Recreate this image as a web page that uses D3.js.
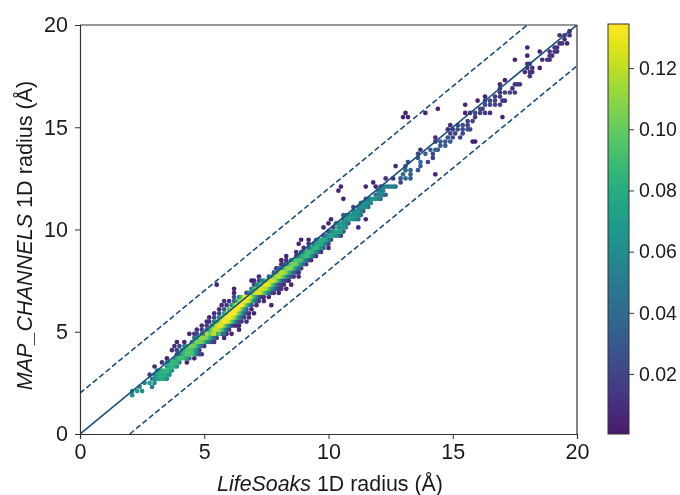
<!DOCTYPE html>
<html><head><meta charset="utf-8"><script src="https://d3js.org/d3.v7.min.js"></script>
<style>html,body{margin:0;padding:0;background:#fff}svg{display:block;filter:blur(.45px)}text{font-family:"Liberation Sans",Arial,sans-serif}</style></head><body>
<svg id="c" width="680" height="495"></svg>
<script>
const xTicks=[0,5,10,15,20], yTicks=[0,5,10,15,20], barTicks=[0.02,0.04,0.06,0.08,0.10,0.12];
const densityRange=[0.0004,0.1344];
const refSolid=[[0,0],[20,20]], refUpper=[[0,2],[18,20]], refLower=[[2,0],[20,18]];
const rowY=[1.9,2.1,2.3,2.5,2.7,2.9,3.1,3.3,3.5,3.7,3.9,4.1,4.3,4.5,4.7,4.9,5.1,5.3,5.5,5.7,5.9,6.1,6.3,6.5,6.7,6.9,7.1,7.3,7.5,7.7,7.9,8.1,8.3,8.5,8.7,8.9,9.1,9.3,9.5,9.7,9.9,10.1,10.3,10.5,10.7,10.9,11.1,11.3,11.5,11.7,11.9,12.1,12.3,12.5,12.7,12.9,13.1,13.3,13.5,13.7,13.9,14.1,14.3,14.5,14.7,14.9,15.1,15.3,15.5,15.7,15.9,16.1,16.3,16.5,16.7,16.9,17.1,17.3,17.5,17.7,17.9,18.1,18.3,18.5,18.7,18.9,19.1,19.3,19.5,19.7];
const rowX=[
[2.1],[2.1,2.3,2.5],[2.4,2.9],[2.6,2.8,3.0],[2.9,3.1,3.3,3.5],[2.8,3.0,3.2,3.4,3.6],[3.1,3.3,3.5,3.7],[3.0,3.5,3.7,3.9],[3.3,3.5,3.7,3.9,4.0,4.3],[3.5,3.8,4.0,4.2,4.4,4.6],
[3.9,4.1,4.3,4.5,4.7,4.9],[3.7,3.9,4.1,4.3,4.5,4.7,4.8],[3.8,4.0,4.2,4.4,4.6,4.8,5.0],[3.9,4.2,4.5,4.7,4.9,5.1,5.3,5.4],[4.6,4.8,5.0,5.2,5.4,5.8],[4.6,4.7,4.9,5.1,5.3,5.5,5.7,5.9],[4.9,5.1,5.3,5.5,5.7,5.9,6.4],[5.1,5.3,5.5,5.7,5.9,6.1],[5.1,5.2,5.5,5.7,5.9,6.1,6.3,6.7],[5.4,5.6,5.8,6.0,6.2,6.4,6.6],
[5.6,5.8,6.0,6.2,6.4,6.6,7.0],[5.8,6.0,6.2,6.4,6.6,6.9],[5.9,6.1,6.3,6.5,6.7,6.9,7.7],[6.0,6.2,6.4,6.6,6.8,7.0,7.2],[6.2,6.4,6.6,6.8,7.0,7.2],[6.2,6.8,7.0,7.2,7.4,7.6,7.8],[6.2,6.9,7.1,7.3,7.5,7.7,7.9,8.1],[5.5,7.0,7.2,7.4,7.6,7.8,8.0,8.2,8.5],[6.9,7.2,7.4,7.6,7.8,8.0,8.2,8.4],[7.2,7.6,7.8,8.0,8.2,8.4,8.6],
[7.8,8.0,8.2,8.4,8.6,8.8],[7.9,8.1,8.3,8.5,8.7,8.9],[8.1,8.3,8.5,8.7,8.9,9.1],[8.1,8.3,8.5,8.7,8.9,9.1,9.3],[8.3,8.7,8.9,9.1,9.3,9.5],[8.7,8.9,9.1,9.3,9.5,9.7],[9.0,9.3,9.5,9.7,10.0],[8.8,9.2,9.5,9.7,9.9],[8.9,9.2,9.5,9.7,9.9,10.1],[9.9,10.1,10.3,10.5],
[10.1,10.3,10.5,10.6],[9.8,10.4,10.6,10.7,11.2],[10.0,10.3,10.5,10.7],[10.1,10.6,10.8,11.0,11.2,11.5],[10.6,10.8,11.1,11.3],[11.0,11.2,11.3],[11.0,11.3,11.5,11.6],[11.3,11.5,11.7],[10.6,11.5,11.7,11.9,12.1],[11.9,12.1,12.3],
[10.4,12.0,12.2],[10.5,11.5,11.9,12.1,12.3,12.5,12.7],[11.8,12.9],[12.3,12.6,12.9,13.1,13.3],[13.0,13.3,14.3],[13.1,13.3,13.6],[12.7,13.1,13.7],[13.2,13.7,14.0],[13.6,14.2],[13.6,13.9,14.2],
[13.7,14.1,14.3,14.4],[14.5,14.7],[14.3,14.5,14.7,14.9,15.8,15.9],[14.3,14.8,15.0,15.3],[14.9,15.1,15.4],[14.8,15.0,15.2,15.4,15.6,15.7],[14.9,15.2,15.4,15.6],[15.6,15.8],[13.0,13.2,15.9,17.0],[13.1,13.9,15.5,15.7,15.9,16.1,16.3,16.5],
[14.4,16.1,16.2],[15.5,16.3,16.5,16.7,16.9],[16.0,16.3,16.5,16.7,17.0,17.1],[16.3,16.7,16.9],[16.9,17.1,17.3,17.5],[16.9,17.4],[16.9,17.5,17.6,17.7],[17.1],[18.1],[17.9,18.1,18.2],
[18.0,18.2,18.5],[18.0,18.1],[17.5,18.6,18.8,18.9],[18.0,18.9,19.0],[18.5,18.9,19.1,19.2],[18.0,19.1,19.2],[19.3,19.4,19.6],[19.5],[19.3,19.5,19.7],[19.7]];
const rowD=[
[.06],[.055,.07,.06],[.06,.05],[.06,.07,.06],[.05,.07,.08,.06],[.02,.05,.08,.08,.06],[.05,.08,.085,.06],[.006,.07,.085,.06],[.01,.05,.085,.08,.05,.005],[.005,.05,.09,.08,.04,.005],
[.015,.07,.095,.09,.04,.01],[.01,.02,.06,.095,.09,.05,.015],[.01,.02,.05,.10,.10,.05,.01],[.005,.005,.06,.105,.10,.05,.02,.01],[.04,.10,.11,.08,.03,.005],[.008,.02,.06,.115,.11,.07,.02,.006],[.02,.04,.10,.12,.09,.03,.005],[.015,.06,.12,.125,.07,.015],[.008,.01,.07,.125,.13,.09,.03,.01],[.02,.05,.12,.134,.11,.05,.01],
[.02,.07,.13,.134,.09,.03,.005],[.03,.09,.134,.125,.06,.006],[.015,.06,.125,.134,.08,.02,.005],[.01,.03,.10,.134,.115,.05,.015],[.02,.06,.125,.13,.08,.02],[.005,.04,.11,.125,.09,.04,.01],[.005,.05,.10,.125,.11,.06,.02,.008],[.005,.015,.07,.125,.125,.07,.02,.006,.004],[.005,.02,.06,.12,.12,.07,.02,.005],[.005,.03,.10,.12,.085,.03,.01],
[.03,.10,.115,.08,.03,.006],[.01,.05,.105,.105,.055,.015],[.01,.04,.10,.10,.05,.01],[.005,.01,.06,.095,.09,.04,.01],[.005,.02,.07,.09,.06,.01],[.01,.03,.08,.085,.05,.01],[.01,.06,.085,.06,.005],[.005,.01,.07,.08,.04],[.005,.005,.04,.08,.07,.02],[.05,.075,.06,.015],
[.05,.075,.07,.02],[.005,.06,.07,.05,.005],[.005,.05,.07,.05],[.005,.04,.07,.065,.04,.005],[.03,.06,.065,.04],[.06,.065,.05],[.02,.06,.06,.04],[.05,.065,.05],[.004,.03,.06,.06,.04],[.04,.055,.03],
[.004,.05,.055],[.004,.005,.005,.02,.055,.055,.04],[.005,.02],[.01,.01,.03,.04,.03],[.04,.03,.004],[.035,.04,.03],[.004,.03,.03],[.02,.04,.02],[.03,.02],[.02,.035,.02],
[.01,.03,.035,.03],[.03,.03],[.01,.03,.03,.03,.004,.004],[.006,.025,.025,.02],[.02,.02,.02],[.01,.015,.025,.025,.025,.02],[.008,.02,.025,.02],[.02,.02],[.004,.004,.015,.004],[.004,.004,.006,.012,.02,.02,.015,.01],
[.004,.02,.015],[.004,.02,.02,.02,.015],[.004,.02,.02,.02,.012,.01],[.004,.015,.015],[.012,.02,.02,.015],[.008,.012],[.005,.012,.012,.012],[.004],[.012],[.01,.012,.01],
[.012,.012,.005],[.01,.01],[.003,.01,.012,.012],[.004,.012,.012],[.004,.012,.012,.012],[.004,.012,.012],[.012,.012,.005],[.01],[.012,.014,.012],[.004]];
const coreY=[2.7,2.9,3.1,3.3,3.5,3.7,3.9,4.1,4.3,4.5,4.7,4.9,5.1,5.3,5.5,5.7,5.9,6.1,6.3,6.5,6.7,6.9,7.1,7.3,7.5,7.7,7.9,8.1,8.3,8.5,8.7,8.9,9.1,9.3,9.5,9.7,9.9,10.1,10.3,10.5,10.7,10.9,11.1,11.3,11.5,11.7,11.9,12.1];
const coreX=[
[3.0,3.2,3.4],[3.1,3.3,3.5],[3.2,3.4,3.6],[3.6,3.8],[3.6,3.8],[3.9,4.1,4.3],[4.0,4.2,4.4,4.6,4.8],[4.2,4.4,4.6],[4.3,4.5,4.7,4.9],[4.6,4.8,5.0,5.2],
[4.7,4.9,5.1,5.3,5.5],[4.4,5.0,5.2,5.4,5.6,5.8,6.1],[4.7,5.2,5.4,5.6,5.8,6.0],[4.9,5.4,5.6,5.8,6.0,6.2,6.3,6.4],[5.4,5.6,5.8,6.0,6.2,6.4,6.5],[5.2,5.7,5.9,6.1,6.3,6.5,6.8],[5.4,5.9,6.1,6.3,6.5,6.7,6.8],[5.6,6.1,6.3,6.5,6.7],[5.7,6.2,6.4,6.6,6.8,7.1],[5.8,6.3,6.5,6.7,6.9,7.1,7.4],
[6.5,6.7,6.9,7.1,7.3,7.4,7.6],[6.7,6.9,7.1,7.3,7.5,7.7,8.0],[7.0,7.2,7.4,7.6,7.8,8.0,8.3],[7.1,7.3,7.5,7.7,7.9,8.1],[7.0,7.3,7.5,7.7,7.9,8.1,8.3],[7.7,7.9,8.1,8.3,8.5,8.8],[7.9,8.1,8.3,8.5,8.7],[8.0,8.2,8.4,8.6,8.8],[8.2,8.4,8.6,8.8,9.0],[8.6,8.8,9.0,9.2],
[8.8,9.0,9.2,9.4],[9.0,9.2,9.4,9.6],[9.2,9.4,9.6,9.8],[9.4,9.6,9.8,10.0],[9.6,9.8,10.0],[9.8,10.0,10.2,10.4],[10.0,10.2,10.4,10.5],[10.2,10.5],[10.4,10.6,10.8],[10.7,10.9,11.1],
[10.7,10.9,11.0,11.2],[11.1,11.4],[11.2,11.4],[11.4,11.6],[11.6,11.8,12.0],[12.0,12.2],[12.1],[12.2,12.4,12.6]];
const coreD=[
[.06,.075,.07],[.065,.08,.07],[.065,.085,.075],[.08,.075],[.07,.085],[.08,.09,.06],[.04,.085,.095,.07,.02],[.08,.095,.07],[.08,.105,.08,.03],[.09,.105,.08,.035],
[.07,.11,.10,.05,.015],[.006,.04,.09,.12,.09,.04,.005],[.01,.07,.12,.11,.06,.015],[.01,.09,.13,.10,.04,.01,.006,.006],[.04,.10,.134,.115,.06,.02,.015],[.008,.09,.13,.125,.08,.03,.008],[.01,.10,.134,.115,.06,.015,.01],[.01,.115,.134,.09,.03],[.008,.09,.134,.11,.05,.01],[.01,.07,.125,.13,.08,.03,.006],
[.09,.134,.11,.05,.01,.01,.005],[.02,.08,.125,.11,.065,.02,.006],[.08,.12,.12,.085,.04,.012,.005],[.04,.10,.13,.10,.04,.01],[.005,.04,.09,.125,.10,.04,.01],[.065,.115,.105,.055,.02,.006],[.07,.12,.10,.05,.015],[.03,.08,.11,.08,.03],[.02,.07,.105,.075,.03],[.08,.095,.065,.02],
[.045,.085,.08,.03],[.06,.09,.07,.03],[.035,.08,.075,.03],[.04,.08,.06,.02],[.06,.08,.05],[.02,.065,.07,.04],[.02,.065,.075,.05],[.02,.07],[.065,.065,.03],[.065,.07,.05],
[.05,.065,.065,.055],[.065,.03],[.045,.065],[.065,.06],[.05,.065,.055],[.055,.045],[.055],[.05,.055,.05]];

const W=680,H=495,m={l:80,r:577,t:25,b:434},bar={l:608,r:629,t:24,b:434};
const svg=d3.select("#c");
const x=d3.scaleLinear().domain([0,20]).range([m.l,m.r]);
const y=d3.scaleLinear().domain([0,20]).range([m.b,m.t]);
const cmap=t=>d3.interpolateViridis(0.07+0.93*t);
const color=d3.scaleSequential(cmap).domain(densityRange);
const collect=(ys,xs,ds)=>ys.flatMap((v,i)=>xs[i].map((u,j)=>({x:u,y:v,d:ds[i][j]})));
const points=collect(rowY,rowX,rowD).concat(collect(coreY,coreX,coreD)).sort((a,b)=>a.d-b.d);
const ink="#333",lineCol="#1b4f7c",txt="#1a1a1a";
svg.append("defs").append("clipPath").attr("id","pc").append("rect").attr("x",m.l).attr("y",m.t).attr("width",m.r-m.l).attr("height",m.b-m.t);
const plot=svg.append("g").attr("clip-path","url(#pc)");
plot.selectAll("circle").data(points).join("circle").attr("cx",d=>x(d.x)).attr("cy",d=>y(d.y)).attr("r",2.35).attr("fill",d=>color(d.d));
const ln=d3.line().x(d=>x(d[0])).y(d=>y(d[1]));
plot.append("path").attr("d",ln(refSolid)).attr("fill","none").attr("stroke",lineCol).attr("stroke-width",1.7);
[refUpper,refLower].forEach(r=>plot.append("path").attr("d",ln(r)).attr("fill","none").attr("stroke",lineCol).attr("stroke-width",1.6).attr("stroke-dasharray","5.5,2.8"));
function style(g,fs){g.selectAll("path").attr("stroke",ink).attr("stroke-width",1.2);g.selectAll("line").attr("stroke",ink).attr("stroke-width",1);g.selectAll("text").attr("fill",txt).attr("font-size",fs).style("font-family",'"Liberation Sans",Arial,sans-serif');}
const gx=svg.append("g").attr("transform",`translate(0,${m.b})`).call(d3.axisBottom(x).tickValues(xTicks).tickFormat(d3.format("d")).tickSize(5).tickPadding(5));style(gx,21.5);
const gy=svg.append("g").attr("transform",`translate(${m.l},0)`).call(d3.axisLeft(y).tickValues(yTicks).tickFormat(d3.format("d")).tickSize(5).tickPadding(7));style(gy,21.5);
svg.append("line").attr("x1",m.l).attr("x2",m.r).attr("y1",m.t).attr("y2",m.t).attr("stroke",ink).attr("stroke-width",1.2);
svg.append("line").attr("x1",m.r).attr("x2",m.r).attr("y1",m.t).attr("y2",m.b).attr("stroke",ink).attr("stroke-width",1.2);
const xl=svg.append("text").attr("x",330).attr("y",491).attr("text-anchor","middle").attr("font-size",21.4).attr("fill",txt);
xl.append("tspan").attr("font-style","italic").text("LifeSoaks");xl.append("tspan").text(" 1D radius (Å)");
const yl=svg.append("text").attr("transform","translate(32,235.5) rotate(-90)").attr("text-anchor","middle").attr("font-size",21.6).attr("fill",txt);
yl.append("tspan").attr("font-style","italic").text("MAP_CHANNELS");yl.append("tspan").text(" 1D radius (Å)");
const bs=d3.scaleLinear().domain(densityRange).range([bar.b,bar.t]);
const grad=svg.select("defs").append("linearGradient").attr("id","vg").attr("x1",0).attr("x2",0).attr("y1",1).attr("y2",0);
d3.range(0,1.0001,0.05).forEach(t=>grad.append("stop").attr("offset",t).attr("stop-color",cmap(t)));
svg.append("rect").attr("x",bar.l).attr("y",bar.t).attr("width",bar.r-bar.l).attr("height",bar.b-bar.t).attr("fill","url(#vg)").attr("stroke",ink).attr("stroke-width",1);
const gb=svg.append("g").attr("transform",`translate(${bar.r},0)`).call(d3.axisRight(bs).tickValues(barTicks).tickFormat(d3.format(".2f")).tickSize(5).tickPadding(5));style(gb,19.5);gb.select("path").remove();
</script></body></html>
